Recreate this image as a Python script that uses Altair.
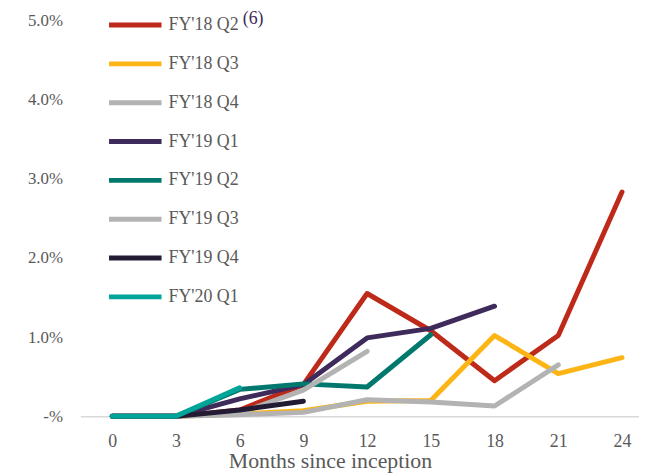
import altair as alt
import pandas as pd

months = [0, 3, 6, 9, 12, 15, 18, 21, 24]
series_names = ["FY'18 Q2", "FY'18 Q3", "FY'18 Q4", "FY'19 Q1",
                "FY'19 Q2", "FY'19 Q3", "FY'19 Q4", "FY'20 Q1"]
fy18q2 = [0, 0, 0.08, 0.40, 1.55, 1.08, 0.45, 1.02, 2.83]
fy18q3 = [0, 0, 0.03, 0.07, 0.19, 0.20, 1.02, 0.54, 0.74]
fy18q4 = [0, 0, 0.02, 0.05, 0.21, 0.18, 0.13, 0.65]
fy19q1 = [0, 0, 0.22, 0.40, 0.99, 1.11, 1.39]
fy19q2 = [0, 0, 0.34, 0.41, 0.37, 1.03]
fy19q3 = [0, 0, 0.04, 0.33, 0.82]
fy19q4 = [0, 0, 0.08, 0.19]
fy20q1 = [0, 0, 0.36]
colors = ["#BE2A1A", "#FDB515", "#B3B3B3", "#3F2B5B",
          "#00786E", "#B3B3B3", "#231A33", "#00A499"]

all_vals = [fy18q2, fy18q3, fy18q4, fy19q1, fy19q2, fy19q3, fy19q4, fy20q1]
rows = []
for i, (name, vals) in enumerate(zip(series_names, all_vals)):
    for m, v in zip(months, vals):
        rows.append({"series": name, "month": m, "value": v, "idx": i})
df = pd.DataFrame(rows)

FONT = "Liberation Serif, DejaVu Serif, serif"
GREY = "#595959"

lines = alt.Chart(df).mark_line(strokeWidth=5, strokeCap="round", strokeJoin="round").encode(
    x=alt.X("month:Q",
            scale=alt.Scale(domain=[-1.5, 24.8], nice=False, zero=False),
            axis=alt.Axis(values=months, title="Months since inception", grid=False,
                          ticks=False, tickSize=0, labelPadding=16, titlePadding=1,
                          titleX=252, titleAlign="center",
                          domainColor="#D9D9D9", domainWidth=1.5,
                          labelFont=FONT, labelFontSize=18, labelColor=GREY,
                          titleFont=FONT, titleFontSize=22, titleColor=GREY,
                          titleFontWeight="normal")),
    y=alt.Y("value:Q",
            scale=alt.Scale(domain=[0, 5], nice=False),
            axis=alt.Axis(values=[0, 1, 2, 3, 4, 5], title=None, grid=False, domain=False,
                          ticks=False, tickSize=0, labelPadding=18,
                          labelExpr="datum.value == 0 ? '-%' : format(datum.value, '.1f') + '%'",
                          labelFont=FONT, labelFontSize=17, labelColor=GREY)),
    color=alt.Color("series:N",
                    scale=alt.Scale(domain=series_names, range=colors),
                    legend=alt.Legend(title=None, orient="none", legendX=26.5, legendY=-24,
                                      direction="vertical", symbolType="stroke",
                                      symbolSize=2809, symbolStrokeWidth=5,
                                      labelFont=FONT, labelFontSize=18, labelColor=GREY,
                                      labelOffset=4.5, rowPadding=0.2, padding=0)),
    detail="idx:O",
)

note = alt.Chart(pd.DataFrame({"t": ["(6)"]})).mark_text(
    font=FONT, fontSize=18, color="#3F2B5B", align="left", baseline="middle"
).encode(text="t:N", x=alt.value(164), y=alt.value(-1))

chart = alt.layer(lines, note).properties(
    width=564, height=400,
    autosize=alt.AutoSizeParams(type="none"),
    padding={"left": 73, "top": 10, "right": 0, "bottom": 58},
).configure_view(stroke=None)

chart.save("out.html", embed_options={"renderer": "svg", "actions": False})
